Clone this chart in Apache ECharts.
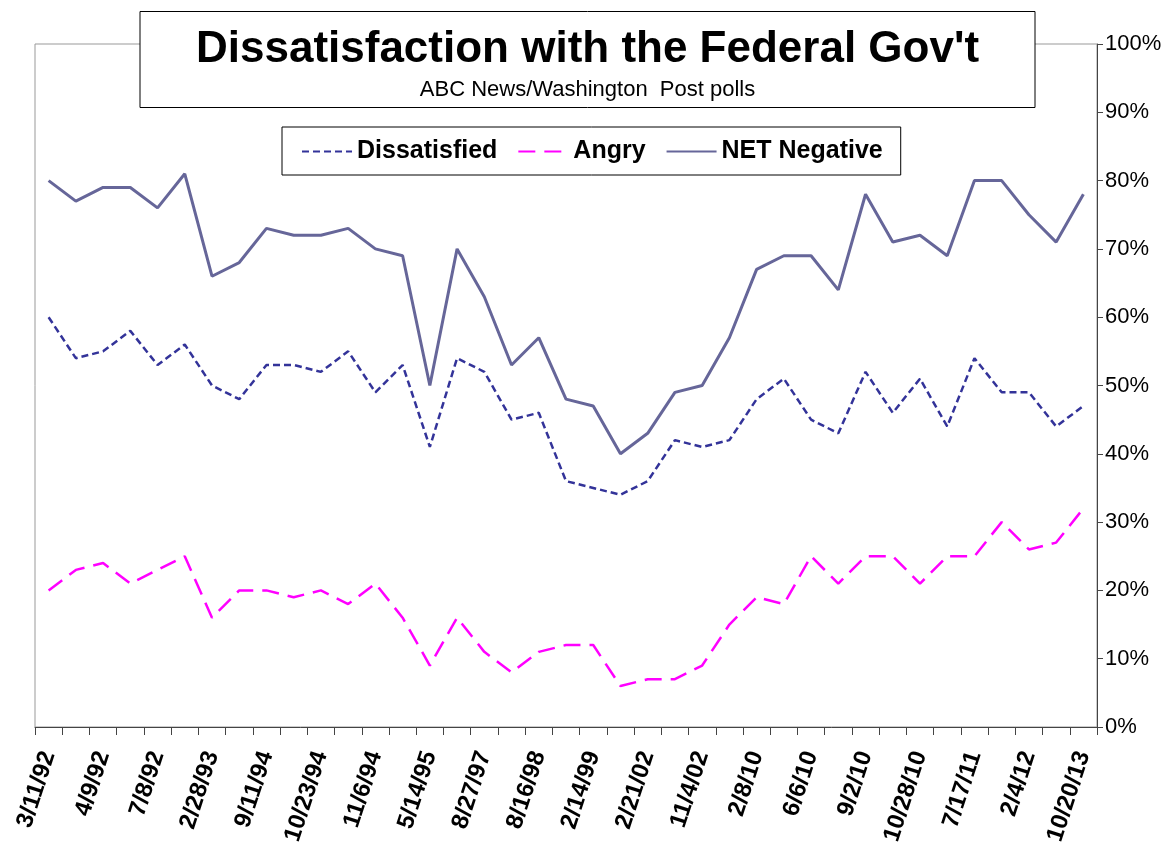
<!DOCTYPE html>
<html><head><meta charset="utf-8">
<script src="https://cdn.jsdelivr.net/npm/echarts@6/dist/echarts.min.js"></script>
<style>html,body{margin:0;padding:0;background:#fff}#c{width:1175px;height:844px}</style>
</head><body><div id="c"></div>
<script>
// Poll dates (only every other one is labelled in the original chart)
const labelledDates = ['3/11/92','4/9/92','7/8/92','2/28/93','9/11/94','10/23/94','11/6/94','5/14/95','8/27/97','8/16/98',
  '2/14/99','2/21/02','11/4/02','2/8/10','6/6/10','9/2/10','10/28/10','7/17/11','2/4/12','10/20/13'];
const categories = [];
labelledDates.forEach(function (d, i) { categories.push(d); if (i < labelledDates.length - 1) categories.push(''); });

const dissatisfied = [60,54,55,58,53,56,50,48,53,53,52,55,49,53,41,54,52,45,46,36,35,34,36,42,41,42,48,51,45,43,52,46,51,44,54,49,49,44,47];
const angry        = [20,23,24,21,23,25,16,20,20,19,20,18,21,16,9,16,11,8,11,12,12,6,7,7,9,15,19,18,25,21,25,25,21,25,25,30,26,27,32];
const netNegative  = [80,77,79,79,76,81,66,68,73,72,72,73,70,69,50,70,63,53,57,48,47,40,43,49,50,57,67,69,69,64,78,71,72,69,80,80,75,71,78];

const seriesNames = ['Dissatisfied', 'Angry', 'NET Negative'];
const titleText = "Dissatisfaction with the Federal Gov't";
const subtitleText = 'ABC News/Washington  Post polls';

const FONT = 'Liberation Sans, Arial, sans-serif';
const chart = echarts.init(document.getElementById('c'), null, {renderer: 'canvas'});
chart.setOption({
  animation: false,
  backgroundColor: '#fff',
  title: {
    text: titleText,
    subtext: subtitleText,
    left: 'center',
    top: 11,
    itemGap: 7,
    padding: [17, 56, 7, 56],
    borderColor: '#000', borderWidth: 1, backgroundColor: '#fff',
    textStyle: {fontFamily: FONT, fontWeight: 'bold', fontSize: 44, color: '#000'},
    subtextStyle: {fontFamily: FONT, fontSize: 22, color: '#000'}
  },
  legend: {
    data: seriesNames,
    left: 282, top: 127,
    padding: [12, 18, 11, 19],
    borderColor: '#000', borderWidth: 1, backgroundColor: '#fff',
    itemGap: 20, itemWidth: 50, itemHeight: 14,
    itemStyle: {opacity: 0},
    textStyle: {fontFamily: FONT, fontWeight: 'bold', fontSize: 25, color: '#000'}
  },
  grid: {left: 35, right: 78, top: 44, bottom: 117, show: true, borderColor: '#999', borderWidth: 1,
         containLabel: false, outerBoundsMode: 'none'},
  xAxis: {
    type: 'category', data: categories, boundaryGap: true,
    axisLine: {lineStyle: {color: '#444', width: 1}},
    axisTick: {show: true, interval: 0, length: 8, lineStyle: {color: '#444'}},
    axisLabel: {interval: 0, rotate: 72, margin: 25, fontFamily: FONT, fontWeight: 'bold', fontSize: 24, color: '#000'},
    splitLine: {show: false}
  },
  yAxis: {
    type: 'value', position: 'right', min: 0, max: 100, interval: 10,
    axisLine: {show: true, lineStyle: {color: '#444'}},
    axisTick: {show: true, length: 6, lineStyle: {color: '#444'}},
    axisLabel: {formatter: '{value}%', margin: 8, fontFamily: FONT, fontSize: 22, color: '#000'},
    splitLine: {show: false}
  },
  series: [
    {name: seriesNames[0], type: 'line', data: dissatisfied, symbol: 'none', color: '#333399',
     lineStyle: {width: 2.5, type: [7, 4], color: '#333399'}},
    {name: seriesNames[1], type: 'line', data: angry, symbol: 'none', color: '#FF00FF',
     lineStyle: {width: 2.5, type: [17, 9], color: '#FF00FF'}},
    {name: seriesNames[2], type: 'line', data: netNegative, symbol: 'none', color: '#666699',
     lineStyle: {width: 3, color: '#666699'}}
  ]
});
</script></body></html>
